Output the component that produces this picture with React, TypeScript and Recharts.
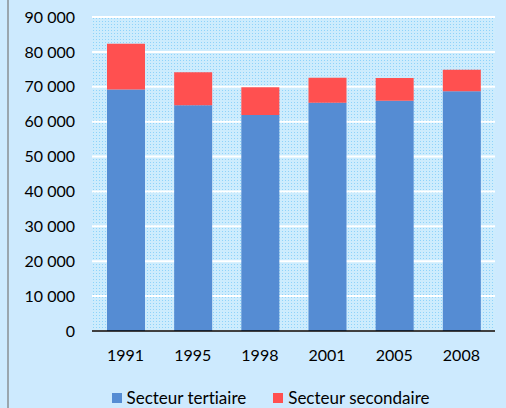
import { BarChart, Bar, XAxis, YAxis, CartesianGrid, Legend } from "recharts";

const years = ["1991", "1995", "1998", "2001", "2005", "2008"];
const tertiaire = [69200, 64700, 61900, 65450, 66000, 68700];
const secondaire = [13100, 9450, 7950, 7150, 6500, 6200];
const yTicks = [0, 10000, 20000, 30000, 40000, 50000, 60000, 70000, 80000, 90000];

const series = [
  { key: "tertiaire", name: "Secteur tertiaire", color: "#558cd3" },
  { key: "secondaire", name: "Secteur secondaire", color: "#ff5050" },
];

const data = years.map((year, i) => ({
  year,
  tertiaire: tertiaire[i],
  secondaire: secondaire[i],
}));

const fmt = (v: number) => String(v).replace(/\B(?=(\d{3})+(?!\d))/g, " ");

const font = "Lato, 'DejaVu Sans', sans-serif";

const LegendBox = () => (
  <div
    style={{
      display: "flex",
      justifyContent: "center",
      paddingLeft: 46,
      fontSize: 17,
      lineHeight: "20px",
      color: "#000",
      fontVariantLigatures: "none",
    }}
  >
    {series.map((s, i) => (
      <div key={s.key} style={{ display: "flex", alignItems: "center", marginLeft: i ? 27 : 0 }}>
        <span style={{ display: "inline-block", width: 10, height: 10, background: s.color, marginRight: 5 }} />
        <span>{s.name}</span>
      </div>
    ))}
  </div>
);

export default function App() {
  return (
    <div
      style={{
        position: "fixed",
        left: 0,
        top: 0,
        width: 506,
        height: 408,
        background: "#cdeafe",
        fontFamily: font,
      }}
    >
      <div style={{ position: "absolute", left: 7, top: 0, width: 2, height: 408, background: "#9aa6ae" }} />
      <BarChart
        width={506}
        height={408}
        data={data}
        margin={{ top: 17, right: 11, left: 0, bottom: 0 }}
        barSize={38}
      >
        <defs>
          <pattern id="dots" width="3" height="3" patternUnits="userSpaceOnUse">
            <rect width="3" height="3" fill="#cdecfd" />
            <rect width="1" height="1" fill="#8fd3fa" />
          </pattern>
        </defs>
        <CartesianGrid vertical={false} stroke="#ffffff" strokeWidth={2} fill="url(#dots)" />
        <XAxis
          dataKey="year"
          height={57}
          tickLine={false}
          tickSize={0}
          tickMargin={19}
          axisLine={{ stroke: "#000", strokeWidth: 1.5 }}
          tick={{ fill: "#000", fontSize: 16, fontFamily: font }}
        />
        <YAxis
          width={92}
          domain={[0, 90000]}
          ticks={yTicks}
          tickFormatter={fmt}
          axisLine={false}
          tickLine={false}
          tickSize={0}
          tickMargin={17}
          tick={{ fill: "#000", fontSize: 16, fontFamily: font }}
        />
        <Legend verticalAlign="bottom" content={LegendBox} wrapperStyle={{ fontFamily: font }} />
        {series.map((s) => (
          <Bar key={s.key} dataKey={s.key} name={s.name} stackId="a" fill={s.color} isAnimationActive={false} />
        ))}
      </BarChart>
    </div>
  );
}
